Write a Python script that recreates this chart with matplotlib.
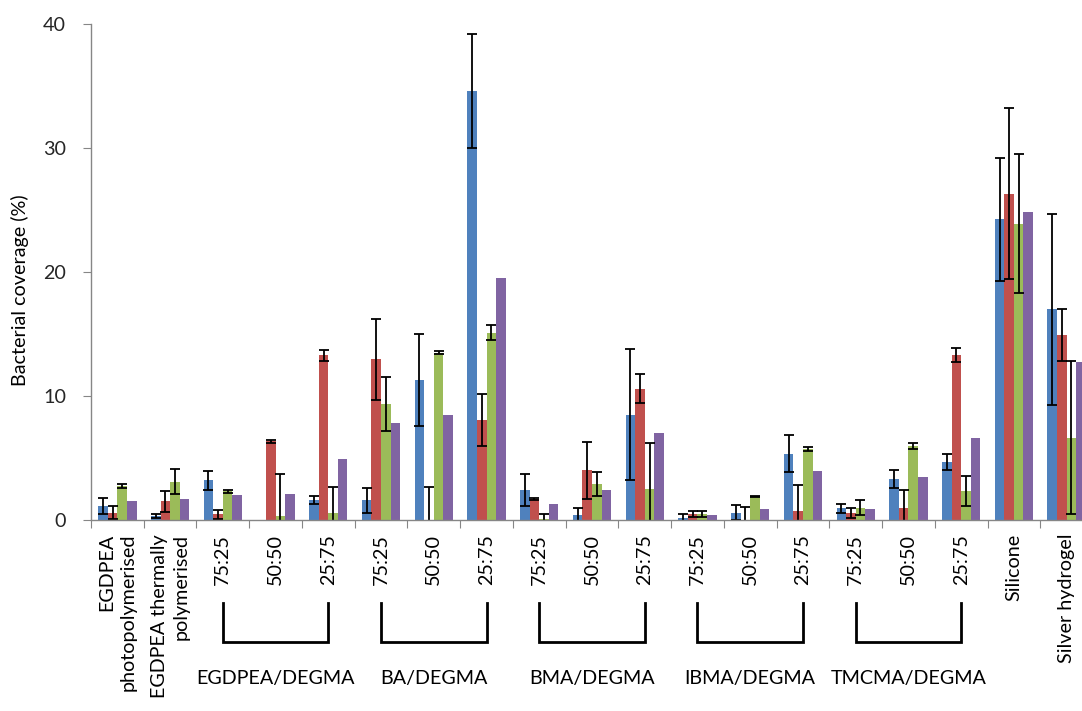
import matplotlib
matplotlib.use("Agg")
import matplotlib.pyplot as plt
import numpy as np

plt.rcParams['font.family'] = ['Lato', 'DejaVu Sans']

# category labels along the x axis (one per group of 4 bars)
labels = ["EGDPEA\nphotopolymerised", "EGDPEA thermally\npolymerised",
          "75:25", "50:50", "25:75",
          "75:25", "50:50", "25:75",
          "75:25", "50:50", "25:75",
          "75:25", "50:50", "25:75",
          "75:25", "50:50", "25:75",
          "Silicone", "Silver hydrogel"]

# copolymer brackets: (first index, last index, name)
groups = [(2, 4, "EGDPEA/DEGMA"), (5, 7, "BA/DEGMA"), (8, 10, "BMA/DEGMA"),
          (11, 13, "IBMA/DEGMA"), (14, 16, "TMCMA/DEGMA")]

# bacterial coverage (%) - four series
nan = float("nan")
blue = [1.1, 0.35, 3.2, 0, 1.6, 1.6, 11.3, 34.6, 2.4, 0.4, 8.5, 0.2, 0.6, 5.35, 0.95, 3.3, 4.65, 24.25, 17.0]
blue_err = [0.65, 0.15, 0.75, nan, 0.33, 1.0, 3.7, 4.6, 1.3, 0.6, 5.3, 0.3, 0.6, 1.5, 0.35, 0.7, 0.65, 4.95, 7.7]

red = [0.6, 1.5, 0.45, 6.36, 13.3, 12.95, 0, 8.1, 1.7, 4.0, 10.6, 0.5, 0, 0.7, 0.6, 1.0, 13.3, 26.3, 14.95]
red_err = [0.55, 0.85, 0.35, 0.11, 0.45, 3.25, 2.7, 2.1, 0.1, 2.3, 1.2, 0.25, 1.05, 2.1, 0.4, 1.4, 0.55, 6.9, 2.1]

green = [2.75, 3.1, 2.3, 0.3, 0.55, 9.35, 13.5, 15.1, 0.05, 2.9, 2.5, 0.5, 1.9, 5.7, 1.0, 5.95, 2.35, 23.9, 6.65]
green_err = [0.18, 1.0, 0.15, 3.4, 2.1, 2.2, 0.1, 0.6, 0.4, 1.0, 3.7, 0.25, 0.05, 0.15, 0.6, 0.23, 1.2, 5.6, 6.15]

purple = [1.5, 1.7, 2.0, 2.1, 4.95, 7.8, 8.5, 19.55, 1.3, 2.45, 7.0, 0.4, 0.9, 3.95, 0.9, 3.45, 6.6, 24.85, 12.75]

colors = ["#4F81BD", "#C0504D", "#9BBB59", "#8064A2"]
axis_grey = "#868686"
fs = 14.2

fig = plt.figure(figsize=(10.82, 7.11), dpi=100)
ax = fig.add_axes([91/1082, 191/711, (1093-91)/1082, (520-24)/711])

x = np.arange(len(labels))
w = 1/5.5
ekw = dict(ecolor="black", elinewidth=1.3, capsize=3.6, capthick=1.3)
series = [(blue, blue_err), (red, red_err), (green, green_err), (purple, None)]
for j, (vals, err) in enumerate(series):
    ax.bar(x + (j - 1.5)*w, vals, width=w, color=colors[j], yerr=err,
           error_kw=ekw if err is not None else None)

ax.set_xlim(-0.5, len(labels) - 0.5)
ax.set_ylim(0, 40)
ax.set_yticks([0, 10, 20, 30, 40])

for s in ["top", "right"]:
    ax.spines[s].set_visible(False)
for s in ["left", "bottom"]:
    ax.spines[s].set_color(axis_grey)
    ax.spines[s].set_linewidth(1)

ax.tick_params(axis="y", length=6, color=axis_grey, pad=12, labelsize=fs, labelcolor="#262626")
ax.set_xticks(np.arange(-0.5, len(labels)), [""]*(len(labels)+1))
ax.tick_params(axis="x", which="major", length=6, color=axis_grey)
ax.set_xticks(x, labels, minor=True)
ax.tick_params(axis="x", which="minor", length=0, pad=10, labelsize=fs, labelcolor="black")
for t in ax.get_xticklabels(minor=True):
    t.set_rotation(90)
    t.set_va("top")
    t.set_ha("center")
    t.set_multialignment("right")
    t.set_linespacing(1.3)

ax.set_ylabel("Bacterial coverage (%)", fontsize=fs, color="black")
ax.yaxis.set_label_coords(-0.071, 0.464)
ax.yaxis.label.set_va("center")

tr = ax.get_xaxis_transform()
y_top, y_bot, y_txt = -0.167, -0.246, -0.319
for a, b, name in groups:
    ax.plot([a, a, b, b], [y_top, y_bot, y_bot, y_top], color="black", lw=2,
            transform=tr, clip_on=False, solid_joinstyle="miter")
    ax.text((a + b)/2, y_txt, name, transform=tr, ha="center", va="center", fontsize=fs)

fig.savefig("out.png", dpi=100)
